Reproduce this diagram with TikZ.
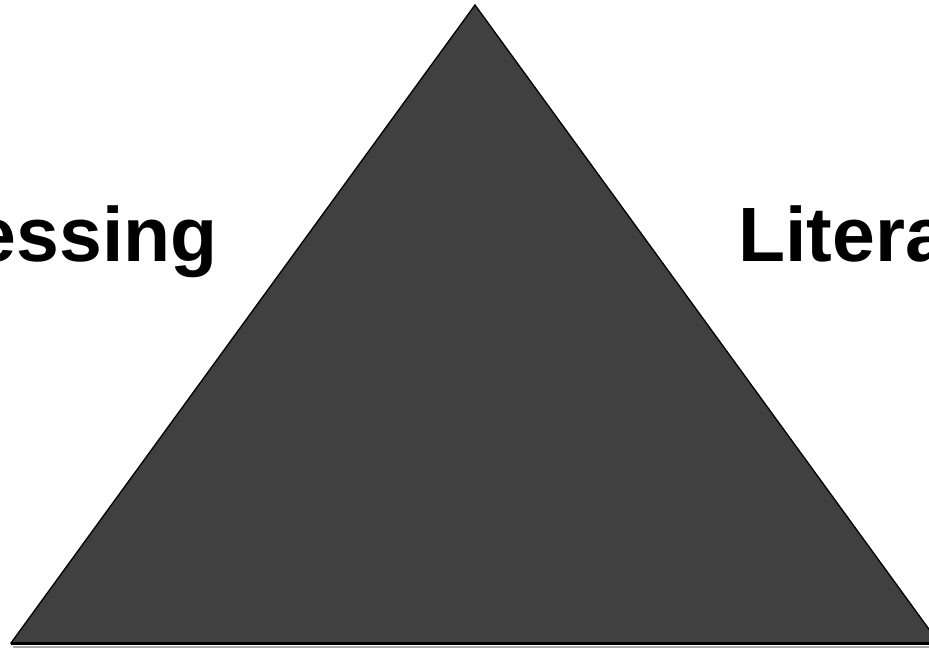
\documentclass[tikz,border=0pt]{standalone}
\usepackage{fontspec}
\setmainfont{Liberation Sans}
\usepackage{xcolor}
\usetikzlibrary{positioning}
\definecolor{trifill}{HTML}{404040}

\begin{document}
\begin{tikzpicture}[x=1pt, y=1pt,
  tri/.style={fill=trifill, draw=black, line width=1.3pt, line join=miter},
  baseln/.style={draw=black, line width=3pt},
  shadow/.style={draw=black!35, line width=2pt},
  sidelab/.style={font=\fontsize{77}{80}\selectfont\bfseries, inner sep=0pt},
]
\useasboundingbox (0,0) rectangle (929,649);
\clip (0,0) rectangle (929,649);

\coordinate (top) at (475,644);
\coordinate (bl) at (11,6);
\coordinate (br) at (939,6);

\draw[shadow] (13,2.5) -- (939,2.5);
\filldraw[tri] (bl) -- (top) -- (br) -- cycle;
\draw[baseln] (bl) -- (br);

\node[sidelab, anchor=base east] (leftlab) at (218,387) {Processing};
\node[sidelab, anchor=base west] (rightlab) at (738,387) {Literacy};
\end{tikzpicture}
\end{document}
